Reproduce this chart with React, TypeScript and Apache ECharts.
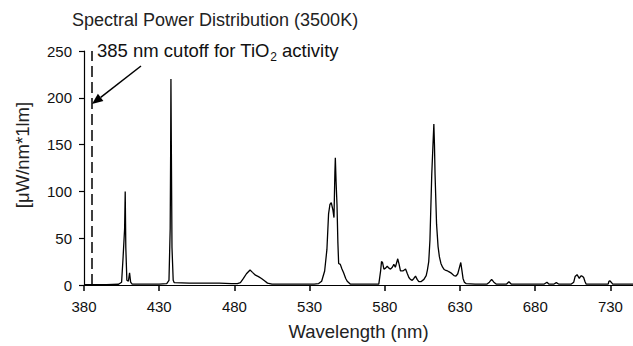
import React, { useEffect, useRef } from "react";
import * as echarts from "echarts";

const wavelength = [
  380, 395, 403, 405, 406, 407, 407.4, 407.8, 408.5, 409.5, 410.3, 411, 412, 420, 430, 435,
  436.5, 437.3, 437.6, 437.8, 438.1, 438.5, 439.3, 440, 450, 460, 470, 478, 482, 484, 486, 488,
  490.4, 492, 494, 496, 498, 500, 502, 505, 515, 525, 533, 536, 538, 540, 541.5, 542.6, 543.5,
  544.4, 545.5, 546.2, 546.8, 547.1, 547.6, 548.2, 548.8, 549.3, 550.4, 551.5, 552.6, 554, 555,
  557, 565, 572, 576, 577.2, 577.8, 578.5, 579.4, 580.5, 581.6, 582.7, 583.8, 585, 586, 587,
  588.6, 589.5, 590.4, 592, 593.8, 595, 596, 597, 598.2, 599.3, 600.4, 601.5, 602.6, 604, 606,
  607.5, 608.3, 609.2, 610, 611.2, 612.1, 612.6, 613, 613.4, 614.4, 615.4, 616.3, 617.3, 618.4,
  619.5, 620.6, 621.7, 622.8, 623.9, 625, 626, 627.3, 628.5, 629.5, 630.5, 631.3, 632, 632.9,
  634, 640, 648, 649.5, 651, 652.5, 654, 661, 662.5, 664, 675, 686, 687.8, 689, 692.5, 694,
  695.5, 704, 705.6, 706.5, 707.8, 708.6, 709.3, 710, 710.7, 711.5, 712.2, 713, 713.8, 720,
  728.5, 729, 729.6, 730.5, 731.5, 745,
];

const power = [
  0.5, 0.5, 0.8, 3, 30, 60, 100, 40, 5, 4, 13, 3, 1, 1, 1, 1.5,
  5, 60, 140, 220, 140, 40, 5, 2.5, 2, 2, 2, 1.5, 1.5, 2.5, 7, 12,
  16, 13.5, 10.5, 9, 7, 4.5, 2, 1, 1, 1, 1, 1.5, 4, 15, 38, 76, 86,
  88, 80, 72, 120, 136, 110, 86, 45, 23, 22, 17, 13, 7, 4,
  1, 1, 1, 1, 15, 25, 24, 17, 18, 20, 18, 17, 19, 22, 19,
  28, 22, 15, 15, 17, 12, 8, 6, 5, 7, 9.5, 6, 3.5, 3.5, 6,
  10, 16, 25, 48, 118, 153, 172, 150, 118, 65, 41, 30, 23, 19,
  16.5, 15.5, 15, 14, 13, 11.5, 10, 9.5, 12, 18, 24, 15, 7, 3,
  1.5, 1, 1, 3, 6, 3, 1, 1, 3.5, 1, 1, 1, 3, 1, 1, 2.5,
  1, 1, 3, 9, 11, 9, 7, 9, 10, 9, 8, 4, 1, 1,
  1, 4, 4.5, 3, 1, 1,
];

const xTicks = [380, 430, 480, 530, 580, 630, 680, 730];
const cutoff = 385;

const title = "Spectral Power Distribution (3500K)";
const xName = "Wavelength (nm)";
const yName = "[μW/nm*1lm]";
const noteMain = "385 nm cutoff for TiO";
const noteSub = "2";
const noteEnd = " activity";

export default function App() {
  const ref = useRef<HTMLDivElement>(null);

  useEffect(() => {
    if (!ref.current) return;
    document.body.style.margin = "0";
    const chart = echarts.init(ref.current, null, { renderer: "svg" });
    const font = "Liberation Sans, Arial, sans-serif";
    const data = wavelength.map((w, i) => [w, power[i]]);

    const noteFont = `18.5px ${font}`;
    const subFont = `12px ${font}`;
    const cv = document.createElement("canvas");
    const ctx = cv.getContext("2d");
    let w1 = 180;
    let w2 = 7;
    if (ctx) {
      ctx.font = noteFont;
      w1 = ctx.measureText(noteMain).width;
      ctx.font = subFont;
      w2 = ctx.measureText(noteSub).width;
    }
    const nx = 97;
    const ny = 50;

    chart.setOption({
      animation: false,
      backgroundColor: "#fff",
      grid: { left: 84, right: 0, top: 51, bottom: 57 },
      xAxis: {
        type: "value",
        min: 380,
        max: 745,
        interval: 50,
        name: xName,
        nameLocation: "middle",
        nameGap: 37,
        nameTextStyle: { fontFamily: font, fontSize: 18.5, color: "#222" },
        axisLine: { show: true, lineStyle: { color: "#000", width: 1.2 } },
        axisTick: {
          show: true,
          length: 6,
          customValues: xTicks,
          lineStyle: { color: "#000", width: 1.5 },
        },
        axisLabel: {
          customValues: xTicks,
          margin: 14,
          fontFamily: font,
          fontSize: 15,
          color: "#111",
        },
        splitLine: { show: false },
      },
      yAxis: {
        type: "value",
        min: 0,
        max: 250,
        interval: 50,
        axisLine: { show: true, lineStyle: { color: "#000", width: 1.2 } },
        axisTick: { show: true, length: 5, lineStyle: { color: "#000", width: 1.2 } },
        axisLabel: { margin: 12, fontFamily: font, fontSize: 15, color: "#111" },
        splitLine: { show: false },
      },
      graphic: [
        {
          type: "text",
          x: 72,
          y: 20,
          style: { text: title, font: `18px ${font}`, fill: "#222", verticalAlign: "middle" },
        },
        {
          type: "text",
          x: 22,
          y: 155,
          rotation: Math.PI / 2,
          style: {
            text: yName,
            font: `18.5px ${font}`,
            fill: "#222",
            align: "center",
            verticalAlign: "middle",
          },
        },
        {
          type: "text",
          x: nx,
          y: ny,
          style: { text: noteMain, font: noteFont, fill: "#111", verticalAlign: "middle" },
        },
        {
          type: "text",
          x: nx + w1 + 0.5,
          y: ny + 7,
          style: { text: noteSub, font: subFont, fill: "#111", verticalAlign: "middle" },
        },
        {
          type: "text",
          x: nx + w1 + w2 + 0.5,
          y: ny,
          style: { text: noteEnd, font: noteFont, fill: "#111", verticalAlign: "middle" },
        },
        {
          type: "line",
          shape: { x1: 141, y1: 66, x2: 100.7, y2: 97.3 },
          style: { stroke: "#000", lineWidth: 1.5 },
        },
        {
          type: "polygon",
          shape: { points: [[92, 104], [103.4, 100.9], [97.9, 93.7]] },
          style: { fill: "#000" },
        },
      ],
      series: [
        {
          type: "line",
          data,
          showSymbol: false,
          symbol: "none",
          lineStyle: { color: "#000", width: 1.3 },
          itemStyle: { color: "#000" },
          markLine: {
            silent: true,
            symbol: "none",
            label: { show: false },
            lineStyle: { color: "#000", width: 1.5, type: [11, 5] },
            data: [{ xAxis: cutoff }],
          },
        },
      ],
    });

    return () => chart.dispose();
  }, []);

  return <div ref={ref} style={{ width: 633, height: 346 }} />;
}
